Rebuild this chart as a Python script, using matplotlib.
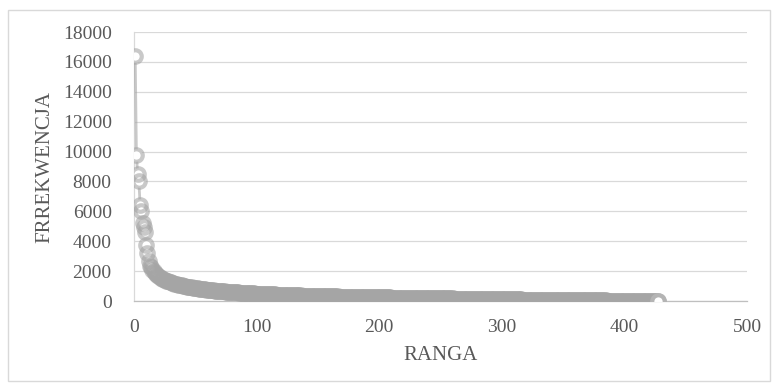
import matplotlib.pyplot as plt
from matplotlib.patches import Rectangle
import numpy as np

# frequency of each rank (rank = position in list, starting at 1)
freq = [
    16400, 9800, 8500, 8000, 6450, 6000, 5200, 4950, 4650, 3750,
    3200, 2650, 2350, 2250, 2100, 2000, 1900, 1800, 1720, 1650,
    1590, 1540, 1490, 1450, 1410, 1370, 1340, 1310, 1280, 1250,
    1220, 1195, 1170, 1145, 1120, 1100, 1080, 1060, 1040, 1020,
    1000, 985, 970, 955, 940, 925, 910, 895, 880, 866,
    852, 840, 828, 816, 805, 794, 783, 772, 762, 752,
    742, 733, 724, 715, 706, 698, 690, 682, 674, 666,
    659, 652, 645, 638, 631, 624, 618, 612, 606, 600,
    594, 588, 582, 576, 570, 565, 560, 555, 550, 545,
    540, 535, 530, 525, 520, 515, 510, 505, 500, 496,
    492, 488, 484, 480, 476, 472, 468, 464, 460, 456,
    452, 448, 444, 440, 436, 432, 428, 424, 420, 416,
    412, 408, 404, 401, 398, 395, 392, 389, 387, 385,
    382, 379, 377, 374, 371, 369, 366, 363, 361, 358,
    356, 353, 350, 348, 345, 343, 340, 338, 335, 332,
    330, 328, 325, 323, 320, 318, 317, 315, 313, 312,
    310, 308, 307, 305, 303, 302, 300, 299, 297, 295,
    294, 292, 290, 289, 287, 286, 284, 282, 281, 279,
    277, 276, 274, 272, 271, 269, 268, 266, 264, 263,
    261, 259, 258, 256, 255, 253, 251, 250, 248, 247,
    246, 244, 243, 242, 240, 239, 238, 236, 235, 234,
    232, 231, 230, 228, 227, 226, 224, 223, 222, 220,
    219, 218, 216, 215, 214, 212, 211, 210, 208, 207,
    206, 204, 203, 202, 200, 199, 198, 196, 195, 194,
    192, 191, 190, 188, 187, 186, 185, 183, 182, 181,
    180, 178, 177, 176, 175, 173, 172, 171, 170, 168,
    167, 166, 165, 163, 162, 161, 160, 158, 157, 156,
    155, 153, 152, 151, 150, 148, 147, 146, 145, 143,
    142, 141, 140, 138, 137, 136, 135, 133, 132, 131,
    130, 128, 127, 126, 125, 123, 122, 121, 120, 118,
    117, 116, 115, 114, 113, 112, 111, 110, 109, 107,
    106, 105, 104, 103, 102, 101, 100, 99, 98, 97,
    96, 95, 94, 92, 91, 90, 89, 88, 87, 86,
    85, 84, 83, 82, 81, 80, 79, 77, 76, 75,
    74, 73, 72, 71, 70, 69, 68, 67, 66, 65,
    64, 62, 61, 60, 59, 58, 57, 56, 55, 54,
    53, 52, 51, 50, 50, 49, 48, 48, 47, 46,
    45, 45, 44, 43, 42, 42, 41, 40, 39, 39,
    38, 37, 36, 36, 35, 34, 33, 33, 32, 31,
    30, 30, 29, 28, 27, 27, 26, 25, 24, 24,
    23, 22, 21, 21, 20, 19, 18, 18, 17, 16,
    15, 15, 14, 13, 12, 12, 11, 10, 9, 9,
    8, 7, 6, 6, 5, 4, 3,
]
ranks = np.arange(1, len(freq) + 1)

x_ticks = [0, 100, 200, 300, 400, 500]
y_ticks = [0, 2000, 4000, 6000, 8000, 10000, 12000, 14000, 16000, 18000]

plt.rcParams['font.family'] = ['Liberation Serif', 'DejaVu Serif']
text_col = '#595959'
grid_col = '#d9d9d9'
ring_col = (0.647, 0.647, 0.647, 0.6)

fig = plt.figure(figsize=(7.78, 3.87), dpi=100)
ax = fig.add_axes([0.1722, 0.2222, 0.788, 0.6951])

# connecting line, white centres, then translucent rings on top
ax.plot(ranks, freq, color=ring_col, lw=2, zorder=3)
ax.plot(ranks, freq, ls='none', marker='o', markersize=9,
        markeredgewidth=0, markerfacecolor='white', zorder=4)
ax.plot(ranks, freq, ls='none', marker='o', markersize=9,
        markeredgewidth=3, markerfacecolor='none',
        markeredgecolor=ring_col, zorder=5)
# last point is drawn on top of the band, so its centre stays white
ax.plot(ranks[-1:], freq[-1:], ls='none', marker='o', markersize=9,
        markeredgewidth=3, markerfacecolor='white',
        markeredgecolor='#b4b4b4', zorder=6)

ax.set_xlim(0, 500)
ax.set_ylim(0, 18000)
ax.set_xticks(x_ticks)
ax.set_yticks(y_ticks)
ax.yaxis.grid(True, color=grid_col, lw=0.9)
ax.set_axisbelow(True)
ax.tick_params(length=0, labelsize=14, labelcolor=text_col)
ax.tick_params(axis='x', pad=13)
ax.tick_params(axis='y', pad=16)

for side in ['top', 'right']:
    ax.spines[side].set_visible(False)
ax.spines['left'].set_color(grid_col)
ax.spines['bottom'].set_color('#bfbfbf')
ax.spines['left'].set_linewidth(0.9)
ax.spines['bottom'].set_linewidth(0.9)

fig.text(441 / 778, 1 - 356 / 387, 'RANGA', ha='center', va='center',
         fontsize=15, color=text_col)
fig.text(45 / 778, 1 - 167 / 387, 'FRREKWENCJA', ha='center', va='center',
         rotation=90, fontsize=15, color=text_col)

# chart area border
fig.patches.append(Rectangle((8 / 778, 6 / 387), 762 / 778, 371 / 387,
                             transform=fig.transFigure, fill=False,
                             edgecolor=grid_col, lw=1))

fig.savefig('out.png', dpi=100)
